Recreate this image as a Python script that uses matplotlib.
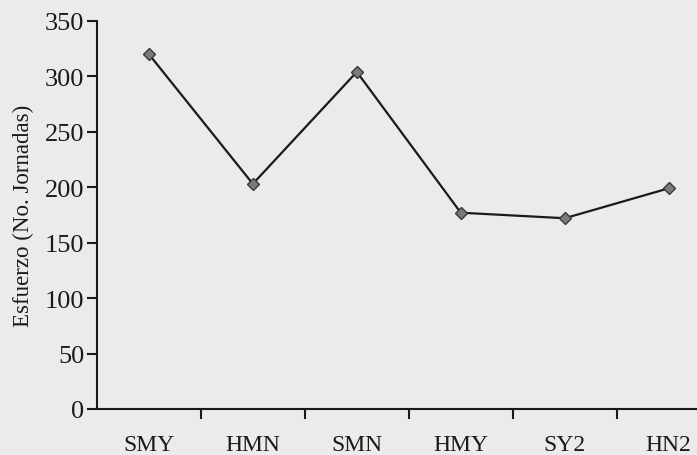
import numpy as np
import matplotlib
matplotlib.use("Agg")
import matplotlib.pyplot as plt

categories = ["SMY", "HMN", "SMN", "HMY", "SY2", "HN2"]
esfuerzo = [320, 203, 304, 177, 172, 199]
yticks = [0, 50, 100, 150, 200, 250, 300, 350]

plt.rcParams['font.family'] = ['Liberation Serif', 'DejaVu Serif']

bg = '#ebebee'
fig = plt.figure(figsize=(6.97, 4.56), dpi=100, facecolor=bg)
ax = fig.add_axes([0.139, 0.101, 0.895, 0.851])
ax.set_facecolor(bg)

x = np.arange(len(categories))
ax.plot(x, esfuerzo, color='#1a1a1a', lw=1.6, marker='D', markersize=6.5,
        markerfacecolor='#7a7a7a', markeredgecolor='#3a3a3a', markeredgewidth=1,
        clip_on=False, zorder=3)

ax.set_xlim(-0.5, len(categories) - 0.5)
ax.set_ylim(0, 350)
ax.set_yticks(yticks)
ax.set_xticks(x)
ax.set_xticklabels(categories)
ax.set_xticks(x[:-1] + 0.5, minor=True)

for s in ['top', 'right']:
    ax.spines[s].set_visible(False)
for s in ['left', 'bottom']:
    ax.spines[s].set_color('#1a1a1a')
    ax.spines[s].set_linewidth(1.5)

ax.tick_params(axis='y', direction='out', length=7, width=1.5, color='#1a1a1a',
               labelsize=19, pad=2, labelcolor='#1a1a1a')
ax.tick_params(axis='x', which='major', length=0, labelsize=17, pad=18,
               labelcolor='#1a1a1a')
ax.tick_params(axis='x', which='minor', direction='out', length=7, width=1.5,
               color='#1a1a1a')

ax.set_ylabel("Esfuerzo (No. Jornadas)", fontsize=16.5, color='#1a1a1a', labelpad=8)

fig.savefig("out.png", dpi=100, facecolor=bg)
